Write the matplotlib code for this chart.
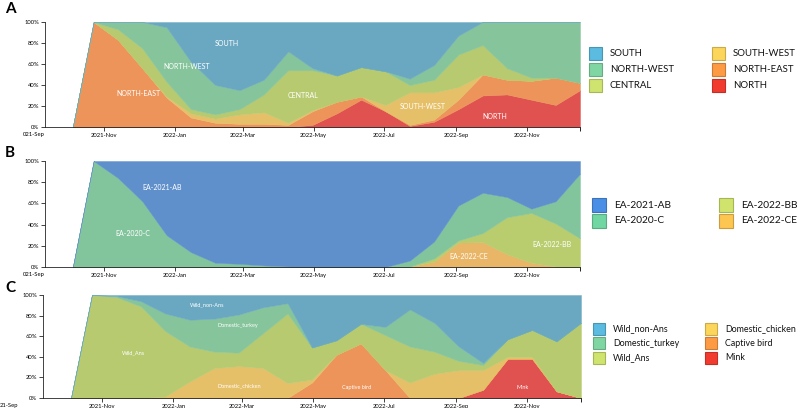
import matplotlib
matplotlib.use("Agg")
import matplotlib.pyplot as plt
import matplotlib.dates as mdates
from matplotlib.patches import Rectangle
import numpy as np
import pandas as pd

plt.rcParams['font.family'] = ['Lato', 'DejaVu Sans']

W, H = 800, 408

# sampling dates (shared by all three panels)
dates = pd.to_datetime([
    "2021-10-05", "2021-10-23", "2021-11-13", "2021-12-04", "2021-12-25",
    "2022-01-15", "2022-02-05", "2022-02-26", "2022-03-19", "2022-04-09",
    "2022-04-30", "2022-05-21", "2022-06-11", "2022-07-02", "2022-07-23",
    "2022-08-13", "2022-09-03", "2022-09-24", "2022-10-15", "2022-11-05",
    "2022-11-26", "2022-12-17",
])

# panel A: regions (bottom -> top of the stack)
regions = ["NORTH", "NORTH-EAST", "SOUTH-WEST", "CENTRAL", "NORTH-WEST", "SOUTH"]
north      = [0, 0, 0, 0, 0, 0, 0, 0, 0, 0, 2, 13, 26, 15, 1, 5, 17, 30, 31, 26, 21, 35]
north_east = [0, 100, 83, 56, 28, 9, 4, 3, 3, 2, 13, 11, 3, 0, 1, 2, 9, 20, 14, 18, 26, 7]
south_west = [0, 0, 0, 0, 1, 4, 4, 9, 11, 2, 1, 0, 0, 6, 31, 26, 12, 0, 0, 0, 0, 0]
central    = [0, 0, 10, 19, 14, 4, 4, 5, 17, 50, 38, 25, 28, 32, 7, 12, 31, 28, 11, 3, 0, 0]
north_west = [0, 0, 7, 25, 52, 45, 28, 18, 14, 18, 2, 0, 0, 0, 6, 14, 18, 22, 44, 53, 53, 58]
south      = [0, 0, 0, 0, 5, 38, 60, 65, 55, 28, 44, 51, 43, 47, 54, 41, 13, 0, 0, 0, 0, 0]

# panel B: clades (bottom -> top)
clades = ["EA-2022-CE", "EA-2022-BB", "EA-2020-C", "EA-2021-AB"]
ea_2022_ce = [0, 0, 0, 0, 0, 0, 0, 0, 0, 0, 0, 0, 0, 0, 0.5, 5, 23, 23.5, 12, 4, 0.5, 0]
ea_2022_bb = [0, 0, 0, 0, 0, 0, 0, 0, 0, 0, 0, 0, 0, 0, 0, 3, 2, 8.5, 35, 47, 40.5, 27]
ea_2020_c  = [0, 100, 84, 62, 30, 14, 4, 3, 1.5, 0.5, 0, 0, 0, 0, 5.5, 16, 33, 38, 19, 4, 21, 61]
ea_2021_ab = [0, 0, 16, 38, 70, 86, 96, 97, 98.5, 99.5, 100, 100, 100, 100, 94, 76, 42, 30, 34, 45, 38, 12]

# panel C: hosts (bottom -> top)
hosts = ["Mink", "Captive bird", "Domestic_chicken", "Wild_Ans", "Domestic_turkey", "Wild_non-Ans"]
mink         = [0, 0, 0, 0, 0, 0, 0, 0, 0, 0, 0, 0, 0, 0, 0, 0, 0, 8, 38, 38, 6.5, 0]
captive_bird = [0, 0, 0, 0, 0, 0, 0, 0, 0, 0, 15, 42, 53, 27, 0, 0, 0, 0, 0, 0, 0, 0]
dom_chicken  = [0, 0, 0, 0, 1.5, 16, 29, 31, 29, 14.5, 3, 0, 0, 0, 15, 23.5, 27, 19, 2, 2, 0, 0]
wild_ans     = [0, 100, 98, 89, 63.5, 34, 16, 13, 34, 67.5, 31, 14, 19, 34, 35, 21.5, 9, 5, 17, 26, 48.5, 73]
dom_turkey   = [0, 0, 1, 5, 17, 26, 32, 37, 25, 10, 0, 0, 0, 8, 36, 28, 14, 2, 0, 0, 0, 0]
wild_non_ans = [0, 0, 1, 6, 18, 24, 23, 19, 12, 8, 51, 44, 28, 31, 14, 27, 50, 66, 43, 34, 45, 27]

area_a = ['#e0524f', '#ec945a', '#e6c068', '#b7ca70', '#86c49b', '#6aa8c2']
swatch_a = ['#f23b2f', '#fd9b44', '#fcd55b', '#cfe46f', '#80d6a2', '#5bbbe0']
area_b = ['#e9b566', '#b9cc6e', '#82c59d', '#5f90cc']
swatch_b = ['#fdc650', '#d0e46d', '#70d6a2', '#4a8fe6']


def shares(*series):
    arr = np.array(series, dtype=float)
    tot = arr.sum(axis=0)
    tot[tot == 0] = 1
    return 100 * arr / tot


def px_axes(fig, left, top, right, bottom):
    return fig.add_axes([left / W, 1 - bottom / H, (right - left) / W, (bottom - top) / H])


def style_axes(ax):
    ax.set_ylim(0, 100)
    ax.set_xlim(pd.Timestamp("2021-09-11"), pd.Timestamp("2022-12-17"))
    ax.set_yticks(range(0, 101, 20))
    ax.set_yticklabels([f"{v}%" for v in range(0, 101, 20)])
    ax.xaxis.set_major_locator(mdates.MonthLocator(bymonth=[1, 3, 5, 7, 9, 11]))
    ax.xaxis.set_major_formatter(mdates.DateFormatter("%Y-%b"))
    for s in ["top", "right"]:
        ax.spines[s].set_visible(False)
    for s in ["left", "bottom"]:
        ax.spines[s].set_linewidth(0.6)
        ax.spines[s].set_color("#222222")
    ax.tick_params(length=3, width=0.6, labelsize=4.2, pad=1.2, color="#222222")
    ax.set_xticks([mdates.date2num(pd.Timestamp("2022-12-17"))], minor=True)
    ax.tick_params(which="minor", length=3, width=0.6)


def legend(fig, labels, colors, x_cols, y_rows, size, fs):
    n_rows = len(y_rows)
    for i, (lab, col) in enumerate(zip(labels, colors)):
        cx = x_cols[i // n_rows]
        cy = y_rows[i % n_rows]
        edge = tuple(c * 0.8 for c in matplotlib.colors.to_rgb(col))
        fig.add_artist(Rectangle((cx / W, 1 - (cy + size / 2) / H), size / W, size / H,
                                 transform=fig.transFigure, facecolor=col,
                                 edgecolor=edge, linewidth=0.8))
        fig.text((cx + size + 8) / W, 1 - cy / H, lab, fontsize=fs,
                 va="center", ha="left", color="#111111")


fig = plt.figure(figsize=(W / 100, H / 100), dpi=100)

# ---- panel A
ax = px_axes(fig, 45, 22, 580, 127)
ax.stackplot(dates, shares(north, north_east, south_west, central, north_west, south),
             colors=area_a, edgecolor="face", linewidth=0.3)
style_axes(ax)
for lab, d, y in [("SOUTH", "2022-02-15", 79.5), ("NORTH-WEST", "2022-01-11", 57.6),
                  ("NORTH-EAST", "2021-12-01", 32), ("CENTRAL", "2022-04-22", 30),
                  ("SOUTH-WEST", "2022-08-03", 19.5), ("NORTH", "2022-10-04", 10)]:
    ax.text(pd.Timestamp(d), y, lab, color="white", fontsize=5, ha="center", va="center")
ax.annotate("021-Sep", xy=(0, 0), xycoords="axes fraction", xytext=(0, -5),
            textcoords="offset pixels", ha="right", va="top", fontsize=4.2)
fig.text(5 / W, 1 - 9 / H, "A", fontsize=11, fontweight="bold", va="center", ha="left")
# legend order: column 1 = top three, column 2 = bottom three
legend(fig, ["SOUTH", "NORTH-WEST", "CENTRAL", "SOUTH-WEST", "NORTH-EAST", "NORTH"],
       swatch_a[::-1], [589, 712], [53, 69, 85], 13, 6.9)

# ---- panel B
ax = px_axes(fig, 45, 161, 580, 267)
ax.stackplot(dates, shares(ea_2022_ce, ea_2022_bb, ea_2020_c, ea_2021_ab),
             colors=area_b, edgecolor="face", linewidth=0.3)
style_axes(ax)
for lab, d, y in [("EA-2021-AB", "2021-12-21", 75), ("EA-2020-C", "2021-11-26", 32),
                  ("EA-2022-CE", "2022-09-12", 10), ("EA-2022-BB", "2022-11-23", 21)]:
    ax.text(pd.Timestamp(d), y, lab, color="white", fontsize=5, ha="center", va="center")
ax.annotate("021-Sep", xy=(0, 0), xycoords="axes fraction", xytext=(0, -5),
            textcoords="offset pixels", ha="right", va="top", fontsize=4.2)
fig.text(5 / W, 1 - 153 / H, "B", fontsize=11, fontweight="bold", va="center", ha="left")
legend(fig, ["EA-2021-AB", "EA-2020-C", "EA-2022-BB", "EA-2022-CE"],
       swatch_b[::-1], [592, 719], [205, 221], 14, 7.3)

# ---- panel C
ax = px_axes(fig, 43, 295, 581, 398)
ax.stackplot(dates, shares(mink, captive_bird, dom_chicken, wild_ans, dom_turkey, wild_non_ans),
             colors=area_a, edgecolor="face", linewidth=0.3)
style_axes(ax)
for lab, d, y in [("Wild_non-Ans", "2022-01-30", 90), ("Domestic_turkey", "2022-02-25", 70),
                  ("Wild_Ans", "2021-11-28", 44), ("Domestic_chicken", "2022-02-27", 12),
                  ("Captive bird", "2022-06-07", 10), ("Mink", "2022-10-28", 10)]:
    ax.text(pd.Timestamp(d), y, lab, color="white", fontsize=4, ha="center", va="center")
ax.annotate("21-Sep", xy=(0, 0), xycoords="axes fraction", xytext=(-43, -5),
            textcoords="offset pixels", ha="left", va="top", fontsize=4.2)
fig.text(5 / W, 1 - 288 / H, "C", fontsize=11, fontweight="bold", va="center", ha="left")
legend(fig, ["Wild_non-Ans", "Domestic_turkey", "Wild_Ans", "Domestic_chicken", "Captive bird", "Mink"],
       swatch_a[::-1], [593, 705], [329, 343, 358], 12, 6.4)

fig.savefig("out.png", dpi=100)
